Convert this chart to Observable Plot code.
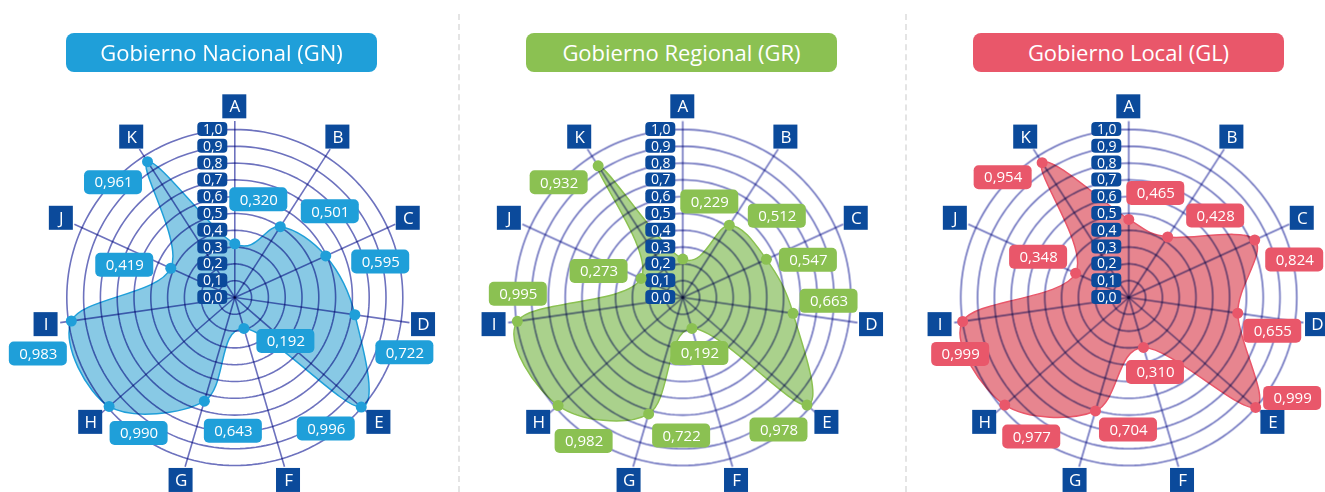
<!DOCTYPE html>
<html><head><meta charset="utf-8">
<script src="https://cdn.jsdelivr.net/npm/d3@7"></script>
<script src="https://cdn.jsdelivr.net/npm/@observablehq/plot@0.6"></script>
<style>
body{margin:0;background:#fff;font-family:"Open Sans",sans-serif;}
#root{position:relative;width:1325px;height:492px;overflow:hidden;}
.panel{position:absolute;top:88px;width:447px;height:404px;}
.pill{position:absolute;top:33px;width:311px;height:39px;border-radius:8px;color:#fff;font-size:22px;line-height:39px;text-align:center;}
.divider{position:absolute;top:14px;bottom:0;width:0;border-left:2px dashed #e4e4e4;}
</style></head><body><div id="root"></div>
<script>
// ---- data ----
const axes = ["A","B","C","D","E","F","G","H","I","J","K"];
const gnValues = [0.320,0.501,0.595,0.722,0.996,0.192,0.643,0.990,0.983,0.419,0.961];
const grValues = [0.229,0.512,0.547,0.663,0.978,0.192,0.722,0.982,0.995,0.273,0.932];
const glValues = [0.465,0.428,0.824,0.655,0.999,0.310,0.704,0.977,0.999,0.348,0.954];
const ticks = [0,0.1,0.2,0.3,0.4,0.5,0.6,0.7,0.8,0.9,1.0];
const tickLabels = ["0,0","0,1","0,2","0,3","0,4","0,5","0,6","0,7","0,8","0,9","1,0"];
const titles = ["Gobierno Nacional (GN)","Gobierno Regional (GR)","Gobierno Local (GL)"];

// ---- layout / style ----
const K = 168;               // px per unit of radius
const W = 447, H = 404, CY = 209;
const panelLeft = [0,447,894];
const centerX = [234.3,235.3,234.3];
const pillLeft = [66,526,973];
const mainColors = ["#1f9fd9","#8bc152","#e9576a"];
const fillColors = ["#88c9e5","#aad18c","#e7858f"];
const gridColor = "#6d72be";
const navy = "#0b4a9b";
// label box offsets from their point, px (right, down)
const labelOffsets = [
  [[24,-44],[50,-15],[55,6],[50,38],[-35,22],[42,13],[29,30],[30,27],[-33,33],[-46,-3],[-34,21]],
  [[27,-57],[48,-9],[42,1],[36,-12],[-28,25],[8,25],[33,22],[26,36],[1,-27],[-42,-7],[-39,17]],
  [[27,-26],[48,-21],[40,20],[35,18],[37,-9],[12,25],[33,19],[27,32],[-2,33],[-37,-16],[-39,15]]
];
const seriesValues = [gnValues, grValues, glValues];

const fmt = v => d3.format(".3f")(v).replace(".", ",");
const ang = i => i * 2 * Math.PI / axes.length;
const root = document.getElementById("root");

[458, 905].forEach(x => {
  const d = document.createElement("div");
  d.className = "divider"; d.style.left = x + "px"; root.appendChild(d);
});

seriesValues.forEach((vals, p) => {
  const pill = document.createElement("div");
  pill.className = "pill";
  pill.style.left = pillLeft[p] + "px";
  pill.style.background = mainColors[p];
  pill.textContent = titles[p];
  root.appendChild(pill);

  const pts = vals.map((v, i) => {
    const a = ang(i);
    const x = v * Math.sin(a), y = v * Math.cos(a);
    const [ox, oy] = labelOffsets[p][i];
    return {axis: axes[i], v, x, y, lx: x + ox / K, ly: y - oy / K, label: fmt(v)};
  });
  const rings = [];
  ticks.slice(1).forEach(t => {
    for (let k = 0; k < 180; k++) {
      const a = k * 2 * Math.PI / 180;
      rings.push({t, x: t * Math.sin(a), y: t * Math.cos(a)});
    }
  });
  const spokes = axes.map((a, i) => ({axis: a, x: 1.05 * Math.sin(ang(i)), y: 1.05 * Math.cos(ang(i)),
    bx: 1.135 * Math.sin(ang(i)), by: 1.135 * Math.cos(ang(i))}));
  const tickData = ticks.map((t, i) => ({t, label: tickLabels[i]}));
  const tx = -22 / K;

  const cx = centerX[p];
  const chart = Plot.plot({
    width: W, height: H, margin: 0,
    x: {domain: [-cx / K, (W - cx) / K], range: [0, W], axis: null},
    y: {domain: [-(H - CY) / K, CY / K], range: [H, 0], axis: null},
    style: {fontFamily: "'Open Sans', sans-serif", background: "transparent", overflow: "visible"},
    marks: [
      Plot.line(pts, {x: "x", y: "y", curve: "cardinal-closed", tension: 0, fill: fillColors[p], stroke: mainColors[p], strokeWidth: 1.5}),
      Plot.line(rings, {x: "x", y: "y", z: "t", curve: "linear-closed", stroke: gridColor, strokeWidth: 1.6, mixBlendMode: "multiply"}),
      Plot.link(spokes, {x1: 0, y1: 0, x2: "x", y2: "y", stroke: gridColor, strokeWidth: 1.6, mixBlendMode: "multiply"}),
      Plot.rect(tickData, {x1: tx - 15 / K, x2: tx + 15 / K, y1: d => d.t - 7 / K, y2: d => d.t + 7 / K, fill: navy, rx: 4}),
      Plot.text(tickData, {x: tx, y: "t", text: "label", fill: "white", fontSize: 14}),
      Plot.rect(spokes, {x1: d => d.bx - 12 / K, x2: d => d.bx + 12 / K, y1: d => d.by - 12 / K, y2: d => d.by + 12 / K, fill: navy}),
      Plot.text(spokes, {x: "bx", y: "by", text: "axis", fill: "white", fontSize: 17}),
      Plot.dot(pts, {x: "x", y: "y", r: 5.5, fill: mainColors[p]}),
      Plot.rect(pts, {x1: d => d.lx - 29 / K, x2: d => d.lx + 29 / K, y1: d => d.ly - 12 / K, y2: d => d.ly + 12 / K, fill: mainColors[p], rx: 5}),
      Plot.text(pts, {x: "lx", y: "ly", text: "label", fill: "white", fontSize: 15})
    ]
  });
  const wrap = document.createElement("div");
  wrap.className = "panel";
  wrap.style.left = panelLeft[p] + "px";
  wrap.appendChild(chart);
  root.appendChild(wrap);
});
</script></body></html>
